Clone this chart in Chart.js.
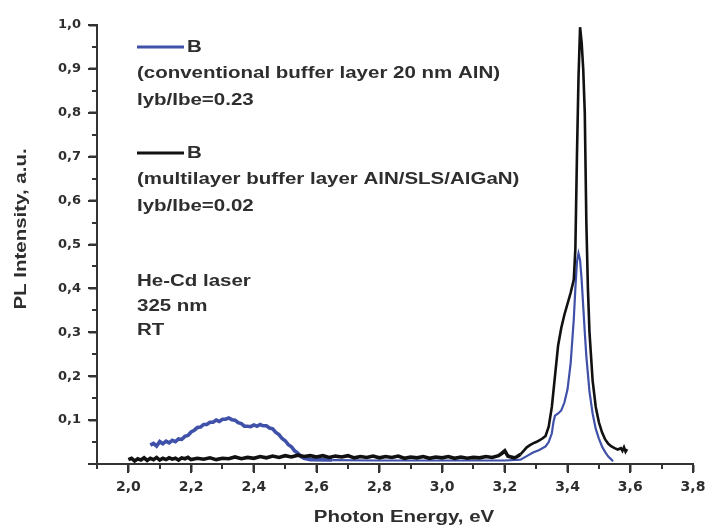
<!DOCTYPE html>
<html>
<head>
<meta charset="utf-8">
<script src="https://cdn.jsdelivr.net/npm/chart.js@4.4.0/dist/chart.umd.min.js"></script>
<style>
html,body{margin:0;padding:0;background:#fff;}
canvas{display:block;}
</style>
</head>
<body>
<canvas id="c" width="707" height="532"></canvas>
<script>
// ---- data ----
const blueEnergy = [2.07,2.08,2.09,2.10,2.11,2.12,2.13,2.14,2.15,2.16,2.17,2.18,2.19,2.20,2.21,2.22,2.23,2.24,2.25,2.26,2.27,2.28,2.29,2.30,2.31,2.32,2.33,2.34,2.35,2.36,2.37,2.38,2.39,2.40,2.41,2.42,2.43,2.44,2.45,2.46,2.47,2.48,2.49,2.50,2.51,2.52,2.53,2.54,2.55,2.56,2.58,2.65,2.80,3.00,3.20,3.25,3.27,3.29,3.31,3.33,3.34,3.35,3.355,3.36,3.37,3.38,3.39,3.40,3.41,3.42,3.425,3.43,3.435,3.44,3.445,3.45,3.455,3.46,3.47,3.48,3.49,3.50,3.51,3.52,3.53,3.54,3.545];
const blueIntensity = [0.043,0.047,0.041,0.051,0.046,0.052,0.048,0.054,0.051,0.057,0.056,0.063,0.065,0.073,0.077,0.083,0.084,0.090,0.090,0.095,0.095,0.100,0.097,0.102,0.102,0.105,0.101,0.100,0.094,0.092,0.086,0.086,0.085,0.089,0.086,0.090,0.087,0.087,0.082,0.080,0.072,0.067,0.058,0.053,0.044,0.039,0.030,0.025,0.017,0.013,0.010,0.009,0.008,0.008,0.008,0.010,0.018,0.026,0.032,0.040,0.050,0.070,0.095,0.110,0.115,0.122,0.140,0.170,0.230,0.330,0.400,0.460,0.480,0.465,0.420,0.360,0.300,0.245,0.165,0.115,0.080,0.058,0.040,0.027,0.017,0.010,0.006];

const blackEnergy = [2.00,2.01,2.02,2.03,2.04,2.05,2.06,2.07,2.08,2.09,2.10,2.11,2.12,2.13,2.14,2.15,2.16,2.17,2.18,2.19,2.20,2.22,2.24,2.26,2.28,2.30,2.32,2.34,2.36,2.38,2.40,2.42,2.44,2.46,2.48,2.50,2.52,2.54,2.56,2.58,2.60,2.62,2.64,2.66,2.68,2.70,2.72,2.74,2.76,2.78,2.80,2.82,2.84,2.86,2.88,2.90,2.92,2.94,2.96,2.98,3.00,3.02,3.04,3.06,3.08,3.10,3.12,3.14,3.16,3.18,3.19,3.20,3.21,3.22,3.23,3.24,3.25,3.26,3.27,3.28,3.29,3.30,3.31,3.32,3.33,3.34,3.35,3.36,3.37,3.38,3.39,3.40,3.41,3.42,3.425,3.43,3.435,3.44,3.445,3.45,3.455,3.46,3.465,3.47,3.48,3.49,3.50,3.51,3.52,3.53,3.54,3.55,3.56,3.57,3.575,3.58,3.585,3.59];
const blackIntensity = [0.010,0.013,0.007,0.012,0.009,0.014,0.008,0.013,0.010,0.015,0.009,0.013,0.010,0.014,0.011,0.013,0.009,0.014,0.012,0.015,0.010,0.013,0.011,0.014,0.010,0.013,0.012,0.016,0.012,0.015,0.013,0.017,0.014,0.018,0.015,0.019,0.016,0.020,0.017,0.019,0.016,0.019,0.015,0.018,0.016,0.019,0.014,0.017,0.015,0.018,0.014,0.017,0.015,0.018,0.013,0.016,0.014,0.017,0.013,0.016,0.014,0.017,0.013,0.016,0.013,0.015,0.014,0.017,0.015,0.019,0.024,0.030,0.018,0.016,0.014,0.017,0.022,0.030,0.038,0.043,0.047,0.050,0.054,0.058,0.064,0.085,0.130,0.200,0.270,0.310,0.340,0.365,0.390,0.420,0.490,0.700,0.880,0.995,0.960,0.900,0.800,0.550,0.400,0.300,0.190,0.130,0.095,0.072,0.056,0.046,0.040,0.036,0.033,0.036,0.030,0.038,0.028,0.034];

const xTickValues = [2.0,2.2,2.4,2.6,2.8,3.0,3.2,3.4,3.6,3.8];
const yTickValues = [0.1,0.2,0.3,0.4,0.5,0.6,0.7,0.8,0.9,1.0];

const legendTexts = [
  'B',
  '(conventional buffer layer 20 nm AlN)',
  'Iyb/Ibe=0.23',
  'B',
  '(multilayer buffer layer AlN/SLS/AlGaN)',
  'Iyb/Ibe=0.02'
];
const noteTexts = ['He-Cd laser','325 nm','RT'];
const xTitle = 'Photon Energy, eV';
const yTitle = 'PL Intensity, a.u.';

const BLUE = '#3f51a8';
const BLACK = '#111111';
const AXIS = '#333333';
const TEXT = '#2e2e2e';

function comma(v){ return v.toFixed(1).replace('.', ','); }

const toXY = (xs, ys) => xs.map((x,i)=>({x:x, y:ys[i]}));

// ticks (major + minor) + annotation text
const decor = {
  id: 'decor',
  afterDraw(chart){
    const ctx = chart.ctx;
    const xs = chart.scales.x, ys = chart.scales.y;
    const L = chart.chartArea.left, B = chart.chartArea.bottom;
    ctx.save();
    ctx.globalAlpha = 1;
    ctx.fillStyle = AXIS;
    // y ticks every 0.05
    for (let i=0;i<=20;i++){
      const py = Math.round(ys.getPixelForValue(i*0.05));
      const len = (i%2===0) ? 9 : 5;
      ctx.fillRect(L - len, py - 1, len, 2);
    }
    // x ticks every 0.1
    for (let i=0;i<=19;i++){
      const px = Math.round(xs.getPixelForValue(1.9 + i*0.1));
      const len = (i%2===1) ? 9 : 5;
      ctx.fillRect(px - 1, B, 2, len);
    }
    // stretched text helper
    const sx = 1.28;
    function txt(t, x, y, size, align){
      ctx.save();
      ctx.font = 'bold ' + size + 'px "Liberation Sans", Arial, sans-serif';
      ctx.fillStyle = TEXT;
      ctx.textBaseline = 'middle';
      ctx.textAlign = align || 'left';
      ctx.translate(x, y);
      ctx.scale(sx, 1);
      ctx.fillText(t, 0, 0);
      ctx.restore();
    }
    // legend sample lines
    ctx.lineWidth = 3;
    ctx.strokeStyle = BLUE;
    ctx.beginPath(); ctx.moveTo(137, 47); ctx.lineTo(184, 47); ctx.stroke();
    ctx.strokeStyle = BLACK;
    ctx.beginPath(); ctx.moveTo(137, 153); ctx.lineTo(184, 153); ctx.stroke();
    const lx = 137;
    txt(legendTexts[0], 187, 48, 16);
    txt(legendTexts[1], lx, 74, 16);
    txt(legendTexts[2], lx, 101, 16);
    txt(legendTexts[3], 187, 154, 16);
    txt(legendTexts[4], lx, 180, 16);
    txt(legendTexts[5], lx, 207, 16);
    txt(noteTexts[0], lx, 282, 16);
    txt(noteTexts[1], lx, 307, 16);
    txt(noteTexts[2], lx, 331, 16);
    // axis titles
    txt(xTitle, 404, 518, 16, 'center');
    ctx.save();
    ctx.translate(22, 229);
    ctx.rotate(-Math.PI/2);
    txt(yTitle, 0, 0, 16, 'center');
    ctx.restore();
    ctx.restore();
  }
};

const tickFont = size => ({ family: '"DejaVu Sans", sans-serif', size: size, weight: 'bold' });

new Chart(document.getElementById('c'), {
  type: 'line',
  data: {
    datasets: [
      { label: 'B multilayer', data: toXY(blackEnergy, blackIntensity), borderColor: BLACK, borderWidth: 2.6,
        segment: { borderWidth: c => (c.p0.parsed.x < 3.25 ? 3.6 : 2.6) },
        pointRadius: 0, tension: 0, fill: false },
      { label: 'B conventional', data: toXY(blueEnergy, blueIntensity), borderColor: BLUE, borderWidth: 2.2,
        segment: { borderWidth: c => (c.p0.parsed.x < 2.6 ? 3.6 : 2.2) },
        pointRadius: 0, tension: 0, fill: false }
    ]
  },
  options: {
    responsive: false,
    animation: false,
    devicePixelRatio: 1,
    layout: { padding: { top: 25, right: 14, left: 0, bottom: 0 } },
    plugins: { legend: { display: false }, tooltip: { enabled: false } },
    scales: {
      x: {
        type: 'linear', min: 1.9, max: 3.8,
        afterFit: s => { s.height = 68; s.paddingLeft = 0; s.paddingRight = 0; },
        afterBuildTicks: s => { s.ticks = xTickValues.map(v => ({ value: v })); },
        ticks: { callback: v => comma(v), color: TEXT, padding: 7, maxRotation: 0, autoSkip: false,
                 font: tickFont(14) },
        grid: { display: true, drawOnChartArea: false, drawTicks: true, tickLength: 8, tickWidth: 2, tickColor: AXIS },
        border: { color: AXIS, width: 2 }
      },
      y: {
        type: 'linear', min: 0, max: 1.0,
        afterFit: s => { s.width = 97; s.paddingTop = 0; s.paddingBottom = 0; },
        afterBuildTicks: s => { s.ticks = yTickValues.map(v => ({ value: v })); },
        ticks: { callback: v => comma(v), color: TEXT, padding: 8, autoSkip: false,
                 font: tickFont(13) },
        grid: { display: true, drawOnChartArea: false, drawTicks: true, tickLength: 8, tickWidth: 2, tickColor: AXIS },
        border: { color: AXIS, width: 2 }
      }
    }
  },
  plugins: [decor]
});
</script>
</body>
</html>
